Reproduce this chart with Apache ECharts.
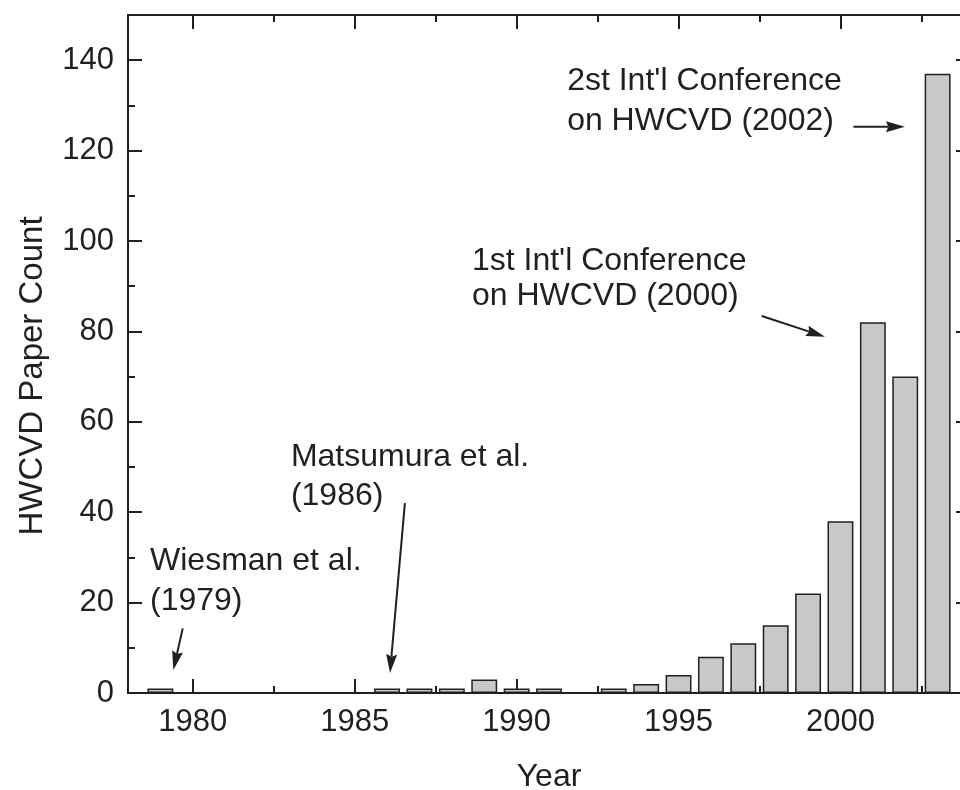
<!DOCTYPE html>
<html>
<head>
<meta charset="utf-8">
<title>HWCVD Paper Count</title>
<script src="https://cdn.jsdelivr.net/npm/echarts@6/dist/echarts.min.js"></script>
<style>
  html, body { margin: 0; padding: 0; background: #fff; overflow: hidden; }
  #chart { width: 970px; height: 790px; }
</style>
</head>
<body>
<div id="chart"></div>
<script>
// Publications per year
const years = [1979, 1986, 1987, 1988, 1989, 1990, 1991, 1993, 1994, 1995, 1996, 1997, 1998, 1999, 2000, 2001, 2002, 2003];
const paperCounts = [1, 1, 1, 1, 3, 1, 1, 1, 2, 4, 8, 11, 15, 22, 38, 82, 70, 137];

// Axis ranges and tick marks
const yearRange = [1978, 2004];
const yearTicks = [1980, 1985, 1990, 1995, 2000];
const yearMinorTicks = [1982.5, 1987.5, 1992.5, 1997.5, 2002.5];
const countRange = [0, 150];
const countTicks = [0, 20, 40, 60, 80, 100, 120, 140];
const countMinorTicks = [10, 30, 50, 70, 90, 110, 130];

// Callouts: text block anchored at its top-left, arrow from start to tip (data coordinates)
const noteTexts = ['Wiesman et al.\n(1979)', 'Matsumura et al.\n(1986)',
                   "1st Int'l Conference\non HWCVD (2000)", "2st Int'l Conference\non HWCVD (2002)"];
const noteAnchors = [[1978.68, 33.6], [1983.03, 56.4], [1988.62, 99.4], [1991.56, 139.8]];
const noteLineHeights = [40, 39, 35, 40];
const arrowStarts = [[1979.69, 14.3], [1986.55, 42.0], [1997.57, 83.4], [2000.40, 125.3]];
const arrowTips = [[1979.40, 5.1], [1986.09, 4.4], [1999.52, 78.8], [2001.99, 125.3]];

const INK = '#231f20';
const FONT = '"Liberation Sans", Arial, Helvetica, sans-serif';

function xAxisFor(position, ticks, len, withLabels) {
  return {
    type: 'value', position: position, min: yearRange[0], max: yearRange[1],
    axisLine: { show: true, onZero: false, lineStyle: { color: INK, width: 2 } },
    axisTick: { show: true, inside: true, length: len, customValues: ticks, lineStyle: { color: INK, width: 2 } },
    axisLabel: withLabels ? {
      show: true, customValues: ticks, margin: 14, color: INK, fontSize: 31, fontFamily: FONT,
      formatter: function (v) { return String(v); }
    } : { show: false },
    splitLine: { show: false },
    name: withLabels ? 'Year' : '',
    nameLocation: 'middle', nameGap: 68,
    nameTextStyle: { color: INK, fontSize: 32, fontFamily: FONT }
  };
}

function yAxisFor(position, ticks, len, withLabels) {
  return {
    type: 'value', position: position, min: countRange[0], max: countRange[1],
    axisLine: { show: true, onZero: false, lineStyle: { color: INK, width: 2 } },
    axisTick: { show: true, inside: true, length: len, customValues: ticks, lineStyle: { color: INK, width: 2 } },
    axisLabel: withLabels ? {
      show: true, customValues: ticks, margin: 14, color: INK, fontSize: 31, fontFamily: FONT,
      formatter: function (v) { return String(v); }
    } : { show: false },
    splitLine: { show: false }
  };
}

const chart = echarts.init(document.getElementById('chart'), null, { renderer: 'canvas' });

chart.setOption({
  animation: false,
  backgroundColor: '#ffffff',
  grid: { left: 128, right: 0, top: 15, bottom: 97, containLabel: false, outerBoundsMode: 'none' },
  xAxis: [
    xAxisFor('bottom', yearTicks, 14, true),
    xAxisFor('top', yearTicks, 14, false),
    xAxisFor('bottom', yearMinorTicks, 7, false),
    xAxisFor('top', yearMinorTicks, 7, false)
  ],
  yAxis: [
    yAxisFor('left', countTicks, 14, true),
    yAxisFor('right', countTicks, 14, false),
    yAxisFor('left', countMinorTicks, 7, false),
    yAxisFor('right', countMinorTicks, 7, false)
  ],
  series: [{
    type: 'bar',
    xAxisIndex: 0,
    yAxisIndex: 0,
    data: years.map(function (y, i) { return [y, paperCounts[i]]; }),
    barWidth: '80%',
    silent: true,
    itemStyle: { color: '#c7c8ca', borderColor: INK, borderWidth: 1.5 }
  }]
});

// Callout texts and arrows placed through the chart's own coordinate system
function toPx(p) { return chart.convertToPixel({ seriesIndex: 0 }, p); }

const elements = [{
  type: 'text',
  x: 33, y: 376,
  rotation: Math.PI / 2,
  style: {
    text: 'HWCVD Paper Count', fill: INK, fontSize: 33, fontFamily: FONT,
    align: 'center', verticalAlign: 'middle'
  }
}];

noteTexts.forEach(function (txt, i) {
  const a = toPx(noteAnchors[i]);
  elements.push({
    type: 'text', x: a[0], y: a[1],
    style: {
      text: txt, fill: INK, fontSize: 32, fontFamily: FONT,
      lineHeight: noteLineHeights[i], align: 'left', verticalAlign: 'top'
    }
  });

  const s = toPx(arrowStarts[i]);
  const t = toPx(arrowTips[i]);
  const dx = t[0] - s[0], dy = t[1] - s[1];
  const len = Math.sqrt(dx * dx + dy * dy);
  const ux = dx / len, uy = dy / len;
  const nx = -uy, ny = ux;
  const headLen = 19, headHalf = 5.5, notch = 2.5;
  const bx = t[0] - ux * headLen, by = t[1] - uy * headLen;
  const mx = t[0] - ux * (headLen - notch), my = t[1] - uy * (headLen - notch);
  elements.push({
    type: 'line',
    shape: { x1: s[0], y1: s[1], x2: mx, y2: my },
    style: { stroke: INK, lineWidth: 2 }
  });
  elements.push({
    type: 'polygon',
    shape: { points: [[t[0], t[1]], [bx + nx * headHalf, by + ny * headHalf], [mx, my], [bx - nx * headHalf, by - ny * headHalf]] },
    style: { fill: INK }
  });
});

chart.setOption({ graphic: { elements: elements } });
</script>
</body>
</html>
